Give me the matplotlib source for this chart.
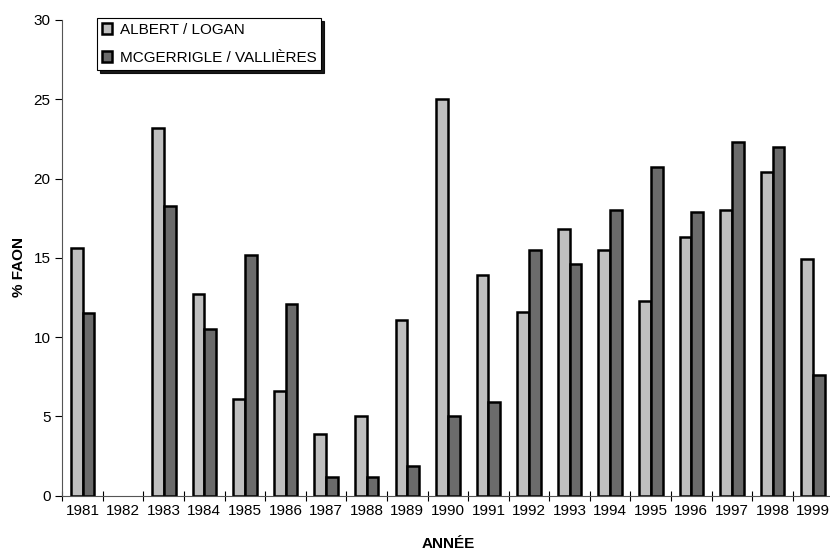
import numpy as np
import matplotlib
matplotlib.use("Agg")
import matplotlib.pyplot as plt

plt.rcParams["font.family"] = ["Liberation Sans", "DejaVu Sans"]

# --------------------------------------------------------------------------
# Data
# --------------------------------------------------------------------------
years = ["1981", "1982", "1983", "1984", "1985", "1986", "1987", "1988", "1989",
         "1990", "1991", "1992", "1993", "1994", "1995", "1996", "1997", "1998",
         "1999"]
albert_logan = [15.6, 0.0, 23.2, 12.7, 6.1, 6.6, 3.9, 5.0, 11.1,
                25.0, 13.9, 11.6, 16.8, 15.5, 12.3, 16.3, 18.0, 20.4, 14.9]
mcgerrigle_vallieres = [11.5, 0.0, 18.3, 10.5, 15.2, 12.1, 1.2, 1.2, 1.9,
                        5.0, 5.9, 15.5, 14.6, 18.0, 20.7, 17.9, 22.3, 22.0, 7.6]

LIGHT = "#bfbfbf"
DARK = "#6b6b6b"
W = 0.29

fig = plt.figure(figsize=(8.3, 5.5), dpi=100)
ax = fig.add_axes([0.0751, 0.0987, 0.929, 0.865])

x = np.arange(len(years))
for vals, off, col, lab in [(albert_logan, -W / 2, LIGHT, "ALBERT / LOGAN"),
                            (mcgerrigle_vallieres, W / 2, DARK,
                             "MCGERRIGLE / VALLIÈRES")]:
    v = np.array(vals)
    keep = v > 0
    ax.bar(x[keep] + off, v[keep], width=W, color=col, edgecolor="black",
           linewidth=1.8, label=lab)

ax.set_xlim(-0.5, len(years) - 0.5)
ax.set_ylim(0, 30)
ax.set_yticks([0, 5, 10, 15, 20, 25, 30])
ax.set_xticks(x)
ax.set_xticklabels(years, fontsize=11)
ax.set_xticks(np.arange(len(years) + 1) - 0.5, minor=True)
ax.tick_params(axis="x", which="major", length=0, pad=6)
ax.tick_params(axis="x", which="minor", length=7, direction="inout", width=0.8)
ax.tick_params(axis="y", labelsize=11, length=5, width=0.8)

for s in ["top", "right"]:
    ax.spines[s].set_visible(False)
for s in ["left", "bottom"]:
    ax.spines[s].set_linewidth(0.8)
    ax.spines[s].set_color("#555555")

ax.set_ylabel("% FAON", fontsize=11, fontweight="bold")
ax.yaxis.set_label_coords(-0.047, 0.48)
ax.set_xlabel("ANNÉE", fontsize=11, fontweight="bold")
ax.xaxis.set_label_coords(0.5, -0.086)

leg = ax.legend(loc="upper left", bbox_to_anchor=(0.045, 1.004), fontsize=11,
                fancybox=False, shadow={"color": "black", "alpha": 0.9},
                edgecolor="black", framealpha=1, handlelength=0.7,
                handleheight=0.7, labelspacing=0.95, borderpad=0.3,
                handletextpad=0.5, borderaxespad=0)
leg.get_frame().set_linewidth(0.8)

fig.savefig("out.png", dpi=100)
